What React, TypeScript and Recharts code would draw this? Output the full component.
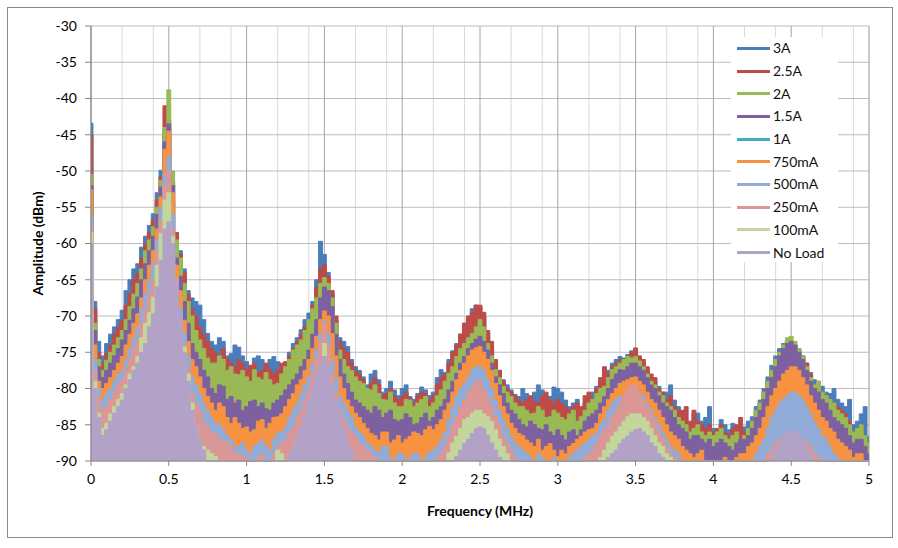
import React from 'react';
import { AreaChart, Area, XAxis, YAxis, CartesianGrid, Label } from 'recharts';

const FONT = "Lato, 'Open Sans', 'DejaVu Sans', sans-serif";

const FREQ = [
  0, 0.025, 0.05, 0.075, 0.1, 0.125, 0.15, 0.175, 0.2, 0.225, 0.25, 0.275, 0.3, 0.325, 0.35, 0.375, 0.4, 0.425, 0.45, 0.475,
  0.5, 0.525, 0.55, 0.575, 0.6, 0.625, 0.65, 0.675, 0.7, 0.725, 0.75, 0.775, 0.8, 0.825, 0.85, 0.875, 0.9, 0.925, 0.95, 0.975,
  1, 1.025, 1.05, 1.075, 1.1, 1.125, 1.15, 1.175, 1.2, 1.225, 1.25, 1.275, 1.3, 1.325, 1.35, 1.375, 1.4, 1.425, 1.45, 1.475,
  1.5, 1.525, 1.55, 1.575, 1.6, 1.625, 1.65, 1.675, 1.7, 1.725, 1.75, 1.775, 1.8, 1.825, 1.85, 1.875, 1.9, 1.925, 1.95, 1.975,
  2, 2.025, 2.05, 2.075, 2.1, 2.125, 2.15, 2.175, 2.2, 2.225, 2.25, 2.275, 2.3, 2.325, 2.35, 2.375, 2.4, 2.425, 2.45, 2.475,
  2.5, 2.525, 2.55, 2.575, 2.6, 2.625, 2.65, 2.675, 2.7, 2.725, 2.75, 2.775, 2.8, 2.825, 2.85, 2.875, 2.9, 2.925, 2.95, 2.975,
  3, 3.025, 3.05, 3.075, 3.1, 3.125, 3.15, 3.175, 3.2, 3.225, 3.25, 3.275, 3.3, 3.325, 3.35, 3.375, 3.4, 3.425, 3.45, 3.475,
  3.5, 3.525, 3.55, 3.575, 3.6, 3.625, 3.65, 3.675, 3.7, 3.725, 3.75, 3.775, 3.8, 3.825, 3.85, 3.875, 3.9, 3.925, 3.95, 3.975,
  4, 4.025, 4.05, 4.075, 4.1, 4.125, 4.15, 4.175, 4.2, 4.225, 4.25, 4.275, 4.3, 4.325, 4.35, 4.375, 4.4, 4.425, 4.45, 4.475,
  4.5, 4.525, 4.55, 4.575, 4.6, 4.625, 4.65, 4.675, 4.7, 4.725, 4.75, 4.775, 4.8, 4.825, 4.85, 4.875, 4.9, 4.925, 4.95, 4.975,
  5,
];

const MAJOR_TICKS = [0, 0.5, 1, 1.5, 2, 2.5, 3, 3.5, 4, 4.5, 5];
const MINOR_TICKS = [
  0.1, 0.2, 0.3, 0.4, 0.6, 0.7, 0.8, 0.9, 1.1, 1.2, 1.3, 1.4, 1.6, 1.7, 1.8, 1.9,
  2.1, 2.2, 2.3, 2.4, 2.6, 2.7, 2.8, 2.9, 3.1, 3.2, 3.3, 3.4, 3.6, 3.7, 3.8, 3.9,
  4.1, 4.2, 4.3, 4.4, 4.6, 4.7, 4.8, 4.9,
];
const Y_TICKS = [-90, -85, -80, -75, -70, -65, -60, -55, -50, -45, -40, -35, -30];

const S_3A = [
  -43.4, -68, -73.5, -75.5, -73.8, -72.5, -71.5, -70.5, -69.2, -66.5, -65, -63.5, -62.8, -60.5, -59, -57.5, -55.9, -53, -49.9, -45,
  -44.5, -52, -58.5, -61, -63.5, -66.5, -67.5, -68, -68.5, -70.5, -72.4, -73.5, -74, -73, -73.5, -75.5, -75.2, -74, -74.3, -75.5,
  -76.3, -77, -75.8, -75.5, -76, -77.2, -76, -75.6, -76.3, -77.5, -76.5, -75, -73.8, -73, -71.9, -70.5, -69.6, -68, -65, -59.7,
  -61.5, -64, -67, -70.5, -73, -73.5, -74.2, -76, -77, -77.5, -78.4, -79.5, -78, -77.5, -78.8, -80.5, -80, -79, -80.2, -81,
  -80, -79.5, -81.1, -81.5, -80.7, -79.8, -80.2, -81, -80.5, -78.5, -77.4, -77.8, -76, -74.8, -73.8, -72.5, -71, -70.5, -69, -68.5,
  -68.8, -70, -72.4, -74.5, -76.5, -77.5, -78.8, -79.5, -80.2, -80.8, -81.1, -80, -80.7, -81.5, -80.5, -79.5, -80.2, -81, -81.1, -79.8,
  -80, -80.5, -81.6, -82.5, -82, -81.5, -83, -82, -81.1, -80.5, -79.7, -79, -78, -77.5, -76.5, -76, -75.6, -75.8, -75.3, -74.8,
  -75, -75.8, -76.5, -77.5, -78.4, -79, -79.7, -80.5, -80.5, -79.5, -81.6, -82.5, -83.9, -84.5, -85.3, -83.5, -83.4, -84.5, -84, -82.5,
  -85.5, -86, -84.3, -85, -85.7, -84.8, -85.5, -86.2, -85.3, -84.5, -83.9, -82.5, -81.6, -80, -78.4, -76.8, -75.5, -74.5, -73.8, -73.5,
  -73.5, -74, -74.5, -75.5, -76.5, -77.8, -78.8, -79, -79.7, -80.5, -80.7, -80, -81.5, -82, -82.5, -81.5, -85, -84.5, -83.5, -82.5,
  -86.6,
];

const S_25A = [
  -45, -69, -75, -76.5, -75.2, -74, -72.5, -71.5, -70.6, -68.5, -66.9, -65, -64.1, -62, -60, -58.5, -56.8, -54, -50.8, -41,
  -43, -51.5, -58.5, -61.5, -64, -67, -69, -70, -71.5, -72.5, -73.5, -74.5, -75, -75.5, -74.5, -75.8, -76.5, -77, -76, -76.5,
  -77.4, -76.8, -76.5, -77.8, -77.5, -76.5, -77.4, -78, -77.5, -76.5, -76.3, -75.5, -74.5, -73.5, -72.5, -71.5, -70.5, -68.5, -66, -63.5,
  -62.9, -64.5, -66.5, -70, -73.5, -74.5, -75, -76.5, -77.5, -78, -78.8, -80, -79.3, -78.5, -79.5, -81, -80.7, -80, -81, -81.5,
  -81.1, -80.5, -81.3, -82, -81, -80.5, -80.7, -81.5, -81, -79.5, -78.5, -78, -76.5, -75, -74, -72.5, -71, -70, -69.5, -68.5,
  -68.5, -69.5, -72, -73.5, -76, -77.5, -79, -80, -80.5, -81, -81.5, -82, -81.5, -81, -81.8, -82, -81, -80.5, -81.6, -82,
  -81.5, -82, -82.5, -83, -82.5, -82, -82.5, -81, -80.5, -81.5, -80, -78.5, -77, -78, -77, -76.5, -76, -76.5, -75.6, -75,
  -74.4, -75.5, -76, -77, -78, -78.5, -80, -80.5, -81.5, -81, -82.5, -83, -83, -82.5, -84.5, -83, -84.5, -85, -85.5, -85,
  -86, -85.5, -85, -86, -86.5, -85.5, -85, -84, -86, -85.5, -84.5, -83, -82, -80.5, -79, -77.5, -76, -75, -74.5, -74,
  -73.8, -74.2, -74.8, -75.5, -76.5, -78, -79.5, -80, -80.5, -81, -81.5, -82, -82.5, -83, -83.5, -84.5, -86, -85.5, -85, -86.5,
  -88,
];

const S_2A = [
  -50.5, -71, -76, -77.5, -76.1, -75, -74, -73, -72, -70.5, -68.7, -67, -65.5, -63.5, -61, -59.5, -57.7, -55, -51.3, -44,
  -38.8, -50, -59.5, -62, -65.5, -68, -70, -72, -73.3, -74.5, -75.8, -76.5, -76.5, -75.5, -76, -77.5, -77, -78, -78.1, -77.5,
  -78.4, -79, -77.4, -78.5, -78.8, -77.8, -78.8, -79.5, -79.3, -78, -77, -76, -74.7, -74, -73.3, -72, -70.5, -69, -67.5, -65.5,
  -64.7, -65.5, -67.5, -71, -74.7, -76, -77, -77.5, -78.4, -79, -79.3, -80, -80.2, -79.5, -80.7, -81.5, -81.6, -80.5, -82, -82.5,
  -82.5, -81.5, -81.6, -82.5, -82, -81.5, -81.1, -82.5, -82, -81, -80.2, -79, -77.9, -77, -75.6, -74.5, -73.8, -73, -72.4, -71.5,
  -70.5, -71.5, -73.8, -75.5, -77.4, -78.5, -79.7, -80.5, -81.1, -82, -82.5, -82.5, -83, -83.5, -83.4, -82.5, -83, -84, -83.9, -83,
  -83.4, -84, -84.3, -83.5, -83, -84.5, -83.9, -83, -82, -81.5, -80.7, -80, -79.7, -78.5, -77.4, -77, -76.5, -76, -75.6, -75.8,
  -75.6, -76.2, -77, -78, -79, -79.5, -80.5, -81, -82, -82.5, -83, -84, -84.5, -85, -86, -85.5, -85, -86, -86.5, -86,
  -86.5, -86, -85.5, -86.5, -87, -86.5, -86, -87, -86.5, -85.5, -84.5, -83, -82, -80.5, -79, -77.5, -76, -75, -74, -73,
  -72.8, -73.5, -74.5, -75.5, -77, -78.5, -79.5, -79, -80.5, -81, -81.5, -82, -83, -83.5, -84, -85, -86, -85.5, -85, -86.5,
  -87.5,
];

const S_15A = [
  -52, -72, -77, -78.5, -77.5, -76.5, -75.5, -74.5, -73.3, -72, -70.6, -69, -67.4, -65, -62.8, -61, -59, -56, -52.2, -46,
  -43.5, -52, -62, -64.5, -68, -71, -73.8, -75, -76, -77.5, -78.4, -80, -80.7, -79.5, -79.7, -81.5, -81.1, -82, -81.6, -83,
  -82.5, -81.8, -81.6, -82.5, -82, -82.8, -83, -82, -81.6, -81, -80.2, -79.5, -78.8, -78, -77, -76, -74.7, -72.5, -70.5, -67.5,
  -66, -66.5, -68.7, -72.5, -76, -78, -79.3, -80.5, -81.6, -82, -82.5, -83, -83.4, -82.5, -83, -84, -83.4, -83, -84.3, -84.5,
  -84.3, -83.5, -84, -85, -84.8, -84, -83.4, -84.5, -84, -83, -82.5, -81.5, -80.2, -79, -77.9, -76.5, -75.6, -74.5, -73.8, -73.2,
  -72.8, -73.5, -74.7, -76.5, -78.4, -79.5, -80.7, -82, -83, -83.5, -84.3, -85, -85.3, -84.5, -85, -85.5, -85.7, -85, -86, -86.5,
  -85.7, -86.5, -87.1, -86, -85.7, -86.5, -85.7, -84.5, -83.9, -83.5, -83, -82, -81.1, -80, -78.8, -78, -77.4, -77.5, -77, -76.5,
  -76.5, -77, -77.5, -78.5, -79.5, -80, -81, -82, -82.5, -83, -84, -85, -85.5, -86, -87, -86.5, -86.5, -87, -87.5, -87,
  -88, -87.5, -87, -87.5, -88, -88.5, -87.5, -87, -87, -86.5, -85.5, -84, -83, -81.5, -80, -78.5, -77, -75.5, -74.5, -73.8,
  -73.5, -74, -75, -76, -77.5, -79, -80, -80.5, -81.5, -82, -83, -84, -84.5, -85, -85.5, -86.5, -87.5, -87, -87, -88,
  -89,
];

const S_1A = [
  -53.5, -75, -80, -81, -80.3, -79.5, -78.5, -77.5, -76.6, -75, -73.5, -72, -70.7, -68.5, -66, -64, -62, -59, -54.6, -48,
  -45.5, -54, -64, -67.5, -71.6, -74.5, -77, -78, -79.4, -81, -82.1, -83, -84, -83, -83.5, -85, -85.8, -85, -85.8, -86.5,
  -86.3, -87, -86.7, -85.5, -85.3, -86.5, -85.8, -85, -84.9, -84.5, -83.5, -82.5, -81.7, -80.5, -79.8, -78.5, -77, -75.5, -73.8, -71.5,
  -70.3, -71, -73.4, -76.5, -79.4, -81, -82.6, -83.5, -84.4, -85, -85.8, -86.5, -87.2, -87.5, -88.1, -87, -87, -88.5, -88.1, -87.5,
  -88.5, -88, -87.6, -87, -87.2, -87.5, -86.7, -86.2, -86.7, -86, -85.3, -84, -83, -81.5, -79.8, -78.5, -77.5, -76.5, -75.7, -75.4,
  -75.2, -76, -77, -78.5, -80.3, -82, -83.5, -84.5, -85.8, -86.5, -87.2, -87.5, -88.1, -88.5, -89, -88, -89.5, -89, -88.6, -89.5,
  -90, -89.5, -90, -89, -88.6, -88, -87.6, -87, -86.7, -86.5, -85.8, -84.5, -83.5, -82.5, -81.7, -81, -80.3, -80, -79.8, -79.5,
  -79.4, -80, -80.5, -81.5, -82.5, -83, -84, -85, -86, -87, -87.5, -88, -89, -89.5, -90, -90, -90, -89.5, -90, -90,
  -90, -90, -90, -90, -90, -90, -90, -90, -90, -89, -88.5, -87.5, -86.5, -85, -83.5, -82, -81, -80, -79, -78.5,
  -78, -78, -78.5, -79.5, -80.5, -82, -83, -84, -85, -85.5, -86.5, -87, -88, -88.5, -89, -89.5, -90, -90, -90, -90,
  -90,
];

const S_750 = [
  -52.6, -74, -79, -80, -79.3, -78.5, -77.5, -76.5, -75.6, -74, -72.5, -71, -69.7, -67.5, -65, -63, -61, -58, -53.6, -47,
  -44.5, -53, -63, -66.5, -70.6, -73.5, -76, -77, -78.4, -80, -81.1, -82, -83, -82, -82.5, -84, -84.8, -84, -84.8, -85.5,
  -85.3, -86, -85.7, -84.5, -84.3, -85.5, -84.8, -84, -83.9, -83.5, -82.5, -81.5, -80.7, -79.5, -78.8, -77.5, -76, -74.5, -72.8, -70.5,
  -69.3, -70, -72.4, -75.5, -78.4, -80, -81.6, -82.5, -83.4, -84, -84.8, -85.5, -86.2, -86.5, -87.1, -86, -86, -87.5, -87.1, -86.5,
  -87.5, -87, -86.6, -86, -86.2, -86.5, -85.7, -85.2, -85.7, -85, -84.3, -83, -82, -80.5, -78.8, -77.5, -76.5, -75.5, -74.7, -74.4,
  -74.2, -75, -76, -77.5, -79.3, -81, -82.5, -83.5, -84.8, -85.5, -86.2, -86.5, -87.1, -87.5, -88, -87, -88.5, -88, -87.6, -88.5,
  -89.4, -88.5, -89, -88, -87.6, -87, -86.6, -86, -85.7, -85.5, -84.8, -83.5, -82.5, -81.5, -80.7, -80, -79.3, -79, -78.8, -78.5,
  -78.4, -79, -79.5, -80.5, -81.5, -82, -83, -84, -85, -86, -86.5, -87, -88, -88.5, -89, -89.5, -89, -88.5, -90, -90,
  -90, -90, -90, -89.5, -90, -90, -89.5, -89, -89, -88, -87.5, -86.5, -85.5, -84, -82.5, -81, -80, -79, -78, -77.5,
  -77, -77, -77.5, -78.5, -79.5, -81, -82, -83, -84, -84.5, -85.5, -86, -87, -87.5, -88, -88.5, -89.5, -89, -89, -90,
  -90,
];

const S_500 = [
  -56.3, -76, -80, -81.5, -80.7, -80, -79, -78, -77.5, -76, -74.5, -73, -71.5, -69, -66.9, -65, -62.8, -59.5, -55, -50.5,
  -48, -56, -65, -69, -72.4, -75.5, -78.4, -79.5, -80.7, -82, -83, -84, -84.8, -85, -85.7, -86.5, -87.1, -88, -88, -87.5,
  -88.5, -89, -88, -87.5, -87.1, -88, -88.5, -87, -86.2, -86, -85.3, -84, -83, -82, -80.7, -79.5, -78.4, -76.5, -74.7, -72.5,
  -70.7, -72.5, -76, -78.5, -81.1, -82, -83, -84, -85.3, -86, -86.6, -87.5, -88, -88.5, -88.9, -88, -88, -89.5, -90, -89,
  -89, -90, -89.5, -89, -89, -90, -89.5, -88.8, -88.5, -88, -87.1, -86, -84.3, -82.5, -81.1, -80, -79.3, -78.5, -77.4, -77,
  -77, -77.5, -78.8, -80, -81.6, -83, -84.3, -85.5, -86.6, -87.5, -88, -88.5, -88.9, -89.5, -90, -89, -89.5, -90, -90, -89.5,
  -90, -90, -90, -89.5, -88.9, -88.5, -88, -87.5, -87.1, -86.5, -86.2, -85, -84.3, -83, -82, -81.5, -81.1, -81, -80.7, -80.5,
  -80.2, -80.5, -81, -82, -83, -84, -85, -86, -87, -88, -88.5, -89, -90, -90, -90, -90, -90, -90, -90, -90,
  -90, -90, -90, -90, -90, -90, -90, -90, -90, -90, -90, -89, -88, -87, -85.5, -84, -83, -82, -81.5, -81,
  -80.5, -80.5, -81, -81.5, -82.5, -83.5, -84.5, -85.5, -86.5, -87, -88, -89, -89.5, -90, -90, -90, -90, -90, -90, -90,
  -90,
];

const S_250 = [
  -57.7, -77.5, -81, -83, -82.5, -81.5, -80.5, -79.5, -78.8, -77.5, -76, -74.5, -73.3, -71, -69.2, -67, -65, -61, -56.8, -52,
  -50, -58, -67, -71, -74, -77.5, -80.7, -82, -83, -84.5, -85.3, -86, -86.2, -87, -87.1, -87.5, -88, -89, -88.9, -89.5,
  -89.4, -90, -90, -89.5, -89, -90, -90, -89, -88, -87.5, -87.1, -86, -85.3, -84, -83, -81.5, -80.2, -78, -76, -73.5,
  -71, -74, -77.9, -80.5, -83, -84, -85.3, -86, -86.6, -87.5, -88, -88.5, -89, -89.5, -90, -90, -90, -90, -90, -90,
  -90, -90, -90, -90, -90, -90, -90, -90, -90, -89.5, -88.9, -88, -86.6, -85, -83.9, -82.5, -81.6, -80.5, -79.7, -79,
  -79, -80, -81.1, -82.5, -83.9, -85, -86.6, -87.5, -88.5, -89.5, -90, -90, -90, -90, -90, -90, -90, -90, -90, -90,
  -90, -90, -90, -90, -90, -90, -90, -89.5, -89, -88.5, -87.6, -86.5, -85.7, -85, -83.9, -83, -82, -81, -80, -79.5,
  -79.5, -80.5, -81.5, -82.5, -83.5, -84.5, -86, -87, -88, -89, -89.5, -90, -90, -90, -90, -90, -90, -90, -90, -90,
  -90, -90, -90, -90, -90, -90, -90, -90, -90, -90, -90, -90, -90, -90, -89, -88.5, -87.5, -87, -86.5, -86,
  -86, -86, -86.5, -87, -87.5, -88, -89, -89.5, -90, -90, -90, -90, -90, -90, -90, -90, -90, -90, -90, -90,
  -90,
];

const S_100 = [
  -58.5, -79, -83.4, -85.5, -84.8, -83.5, -82.5, -81.5, -80.7, -79.5, -78, -77, -75.6, -73, -71, -69.5, -67.4, -63, -58.6, -54,
  -53, -59, -66, -70.5, -74.3, -78, -82, -85, -87.6, -88, -88.5, -89, -89.4, -90, -90, -90, -90, -90, -90, -90,
  -90, -90, -90, -90, -90, -90, -90, -90, -88.5, -89, -90, -89, -88, -87, -86.2, -85, -83.4, -81.5, -79.7, -77,
  -73.8, -77.5, -81.6, -84, -86.2, -87, -88, -89, -90, -90, -90, -90, -90, -90, -90, -90, -90, -90, -90, -90,
  -90, -90, -90, -90, -90, -90, -90, -90, -90, -90, -90, -90, -88.9, -87.5, -86.6, -85.5, -84.3, -84, -83.4, -83,
  -83, -83.5, -83.9, -84.5, -85.7, -87, -88, -89, -90, -90, -90, -90, -90, -90, -90, -90, -90, -90, -90, -90,
  -90, -90, -90, -90, -90, -90, -90, -90, -90, -90, -90, -89.5, -88.5, -87.5, -86.6, -86, -85.3, -84.5, -83.9, -83.5,
  -83.5, -83.5, -84, -84.5, -85.5, -86.5, -87.5, -88, -89, -89.5, -90, -90, -90, -90, -90, -90, -90, -90, -90, -90,
  -90, -90, -90, -90, -90, -90, -90, -90, -90, -90, -90, -90, -90, -90, -90, -89.5, -89, -88.5, -88, -87.5,
  -87.5, -87.5, -88, -88.5, -89.5, -90, -90, -90, -90, -90, -90, -90, -90, -90, -90, -90, -90, -90, -90, -90,
  -90,
];

const S_NOLOAD = [
  -60, -80, -84, -86.5, -85.7, -84.5, -83.4, -82.5, -81.6, -80, -78.8, -77.5, -76.5, -75, -73.8, -71.5, -69.7, -66, -62.3, -58,
  -57, -60, -65, -70, -75, -79, -83, -85, -87, -88.5, -90, -90, -90, -90, -90, -90, -90, -90, -90, -90,
  -90, -90, -90, -90, -90, -90, -90, -90, -90, -90, -90, -89, -88, -86.5, -85.3, -83.5, -81.6, -80, -77.9, -76.5,
  -75.6, -77, -79.3, -81.5, -83.4, -85.5, -87.1, -88.5, -90, -90, -90, -90, -90, -90, -90, -90, -90, -90, -90, -90,
  -90, -90, -90, -90, -90, -90, -90, -90, -90, -90, -90, -90, -90, -90, -89.4, -88.5, -87.6, -87, -86.2, -85.5,
  -85.3, -85.5, -86.5, -87.5, -88.5, -89.5, -90, -90, -90, -90, -90, -90, -90, -90, -90, -90, -90, -90, -90, -90,
  -90, -90, -90, -90, -90, -90, -90, -90, -90, -90, -90, -90, -90, -89.5, -89, -88.5, -87.6, -87, -86.6, -86,
  -85.7, -85.5, -86, -86.5, -87.5, -88, -89, -89.5, -90, -90, -90, -90, -90, -90, -90, -90, -90, -90, -90, -90,
  -90, -90, -90, -90, -90, -90, -90, -90, -90, -90, -90, -90, -90, -90, -90, -89.5, -88.5, -87.5, -86.5, -86,
  -86, -86, -86.5, -87, -88, -89, -90, -90, -90, -90, -90, -90, -90, -90, -90, -90, -90, -90, -90, -90,
  -90,
];

const SERIES = [
  { key: 's3A', name: '3A', color: '#4a7ebb', values: S_3A },
  { key: 's25A', name: '2.5A', color: '#be4b48', values: S_25A },
  { key: 's2A', name: '2A', color: '#98b954', values: S_2A },
  { key: 's15A', name: '1.5A', color: '#7d60a0', values: S_15A },
  { key: 's1A', name: '1A', color: '#46aac5', values: S_1A },
  { key: 's750', name: '750mA', color: '#f69240', values: S_750 },
  { key: 's500', name: '500mA', color: '#91acd9', values: S_500 },
  { key: 's250', name: '250mA', color: '#db9796', values: S_250 },
  { key: 's100', name: '100mA', color: '#c3d69b', values: S_100 },
  { key: 'sNo', name: 'No Load', color: '#b3a2c7', values: S_NOLOAD },
];

const data = FREQ.map((f, i) => {
  const row: Record<string, number> = { f };
  SERIES.forEach((s) => {
    row[s.key] = s.values[i];
  });
  return row;
});

const tickStyle = { fill: '#000', fontSize: 14, fontFamily: FONT };

export default function App() {
  return (
    <div style={{ position: 'absolute', left: 0, top: 0, width: 898, height: 548, background: '#fff', fontFamily: FONT }}>
      <div
        style={{
          position: 'absolute',
          left: 7,
          top: 7,
          width: 886,
          height: 531,
          border: '1px solid #8a8a8a',
          boxSizing: 'border-box',
        }}
      />
      <div style={{ position: 'absolute', left: 0, top: 0 }}>
        <AreaChart width={898} height={548} data={data} margin={{ top: 26, right: 29, left: 0, bottom: 0 }}>
          <XAxis xAxisId="minor" type="number" dataKey="f" domain={[0, 5]} ticks={MINOR_TICKS} hide />
          <XAxis
            type="number"
            dataKey="f"
            domain={[0, 5]}
            ticks={MAJOR_TICKS}
            interval={0}
            height={87}
            tickSize={5}
            tickMargin={8}
            stroke="#868686"
            tick={tickStyle}
            tickFormatter={(v: number) => String(v)}
          >
            <Label
              value="Frequency (MHz)"
              position="insideBottom"
              offset={32}
              style={{ fontWeight: 'bold', fontSize: 14, fill: '#000', fontFamily: FONT }}
            />
          </XAxis>
          <YAxis
            type="number"
            domain={[-90, -30]}
            ticks={Y_TICKS}
            interval={0}
            width={91}
            tickSize={6}
            tickMargin={8}
            stroke="#868686"
            tick={tickStyle}
          >
            <Label
              value="Amplitude (dBm)"
              angle={-90}
              position="insideLeft"
              offset={38}
              style={{ fontWeight: 'bold', fontSize: 14, fill: '#000', fontFamily: FONT, textAnchor: 'middle' }}
            />
          </YAxis>
          <CartesianGrid xAxisId="minor" horizontal={false} stroke="#d9d9d9" />
          <CartesianGrid vertical={false} stroke="#bdbdbd" />
          <CartesianGrid horizontal={false} stroke="#a6a6a6" />
          {SERIES.map((s) => (
            <Area
              key={s.key}
              type="step"
              dataKey={s.key}
              name={s.name}
              stroke={s.color}
              strokeWidth={1}
              fill={s.color}
              fillOpacity={1}
              baseValue={-90}
              dot={false}
              activeDot={false}
              isAnimationActive={false}
            />
          ))}
        </AreaChart>
      </div>
      <div
        style={{
          position: 'absolute',
          left: 731,
          top: 37,
          width: 107,
          height: 225,
          background: '#fff',
        }}
      >
        {SERIES.map((s) => (
          <div key={s.key} style={{ display: 'flex', alignItems: 'center', height: 22.7 }}>
            <div style={{ marginLeft: 6, width: 33, height: 3, background: s.color }} />
            <span style={{ marginLeft: 3, fontSize: 14, color: '#111', lineHeight: '16px' }}>{s.name}</span>
          </div>
        ))}
      </div>
    </div>
  );
}
